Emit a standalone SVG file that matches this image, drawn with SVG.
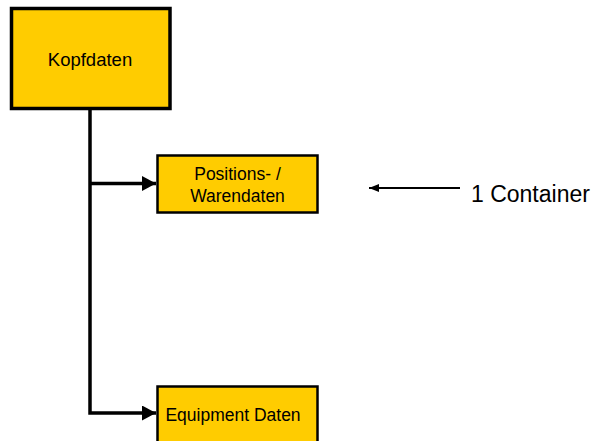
<svg xmlns="http://www.w3.org/2000/svg" width="595" height="441" viewBox="0 0 595 441">
<defs>
<style>
.box{fill:#FFCC00;stroke:#000;}
.t{font-family:"Liberation Sans",Arial,sans-serif;fill:#000;text-anchor:middle;}
.c{fill:none;stroke:#000;}
</style>
<marker id="ah" markerUnits="userSpaceOnUse" markerWidth="16" markerHeight="16" refX="14" refY="7.5" orient="auto">
<polygon points="0,0 14,7.5 0,15" fill="#000"/>
</marker>
<marker id="ahs" markerUnits="userSpaceOnUse" markerWidth="12" markerHeight="10" refX="10" refY="4" orient="auto">
<polygon points="0,0 10,4 0,8" fill="#000"/>
</marker>
</defs>
<rect width="595" height="441" fill="#fff"/>
<g id="connectors">
<path class="c" d="M90,109 V413 H156" stroke-width="3.5" stroke-linejoin="miter" marker-end="url(#ah)"/>
<path class="c" d="M90,183.5 H156" stroke-width="3.5" marker-end="url(#ah)"/>
<path class="c" d="M460,188 H369" stroke-width="2" marker-end="url(#ahs)"/>
</g>
<g id="kopfdaten">
<rect class="box" x="11.5" y="8.5" width="158.5" height="100" stroke-width="3.5"/>
<text class="t" x="90" y="66" font-size="18.5">Kopfdaten</text>
</g>
<g id="positionen">
<rect class="box" x="157.5" y="155.5" width="160" height="57" stroke-width="2.5"/>
<text class="t" x="237.5" y="180" font-size="17.5">Positions- /</text>
<text class="t" x="237.5" y="202" font-size="17.5">Warendaten</text>
</g>
<g id="equipment">
<rect class="box" x="157.5" y="386.5" width="160" height="70" stroke-width="2.5"/>
<text class="t" x="233" y="421" font-size="17.5">Equipment Daten</text>
</g>
<g id="container-label">
<text x="471" y="202" font-size="23" font-family="Liberation Sans, Arial, sans-serif" fill="#000">1 Container</text>
</g>
</svg>
